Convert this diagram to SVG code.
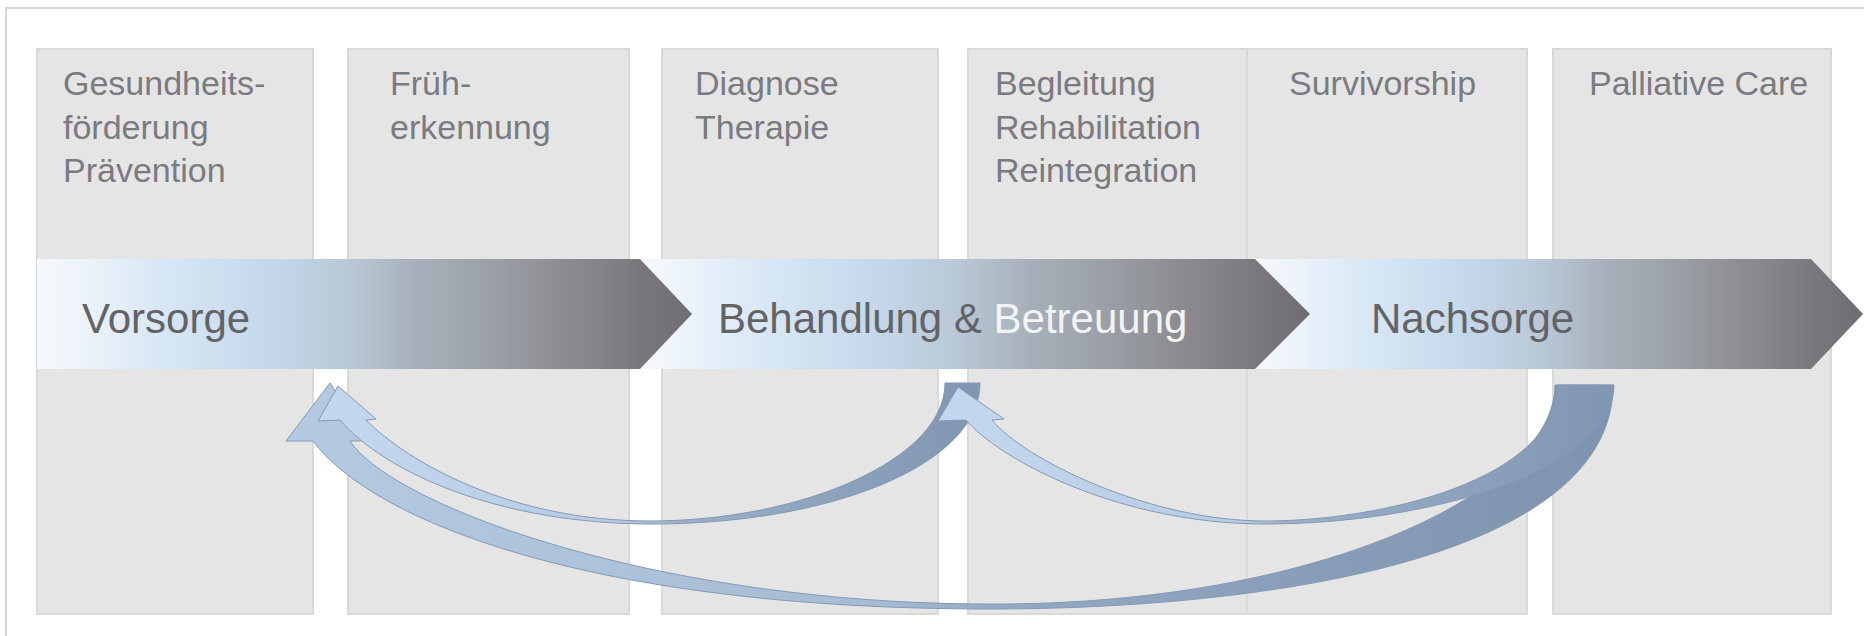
<svg xmlns="http://www.w3.org/2000/svg" width="1864" height="636" viewBox="0 0 1864 636">
<defs>
<linearGradient id="chev" x1="0" y1="0" x2="1" y2="0">
<stop offset="0" stop-color="#f6f9fc"/>
<stop offset="0.08" stop-color="#eaf2fa"/>
<stop offset="0.2" stop-color="#d6e6f4"/>
<stop offset="0.35" stop-color="#c5d8eb"/>
<stop offset="0.48" stop-color="#b8c7d5"/>
<stop offset="0.58" stop-color="#a7b0ba"/>
<stop offset="0.7" stop-color="#9a9fa6"/>
<stop offset="0.8" stop-color="#8d8d91"/>
<stop offset="0.92" stop-color="#7a787c"/>
<stop offset="1" stop-color="#6f6d71"/>
</linearGradient>
<linearGradient id="gC" gradientUnits="userSpaceOnUse" x1="286" y1="0" x2="1613" y2="0">
<stop offset="0" stop-color="#b4cae3"/>
<stop offset="0.45" stop-color="#a6bbd4"/>
<stop offset="0.53" stop-color="#94a9c3"/>
<stop offset="1" stop-color="#7d93ae"/>
</linearGradient>
<linearGradient id="gA" gradientUnits="userSpaceOnUse" x1="318" y1="0" x2="980" y2="0">
<stop offset="0" stop-color="#c3d8ee"/>
<stop offset="0.45" stop-color="#b7cce4"/>
<stop offset="0.55" stop-color="#9aafc8"/>
<stop offset="1" stop-color="#8096b1"/>
</linearGradient>
<linearGradient id="gB" gradientUnits="userSpaceOnUse" x1="938" y1="0" x2="1614" y2="0">
<stop offset="0" stop-color="#c3d8ee"/>
<stop offset="0.45" stop-color="#b7cce4"/>
<stop offset="0.52" stop-color="#9aafc8"/>
<stop offset="1" stop-color="#8096b1"/>
</linearGradient>
</defs>
<style>
.box{fill:#e6e5e6;stroke:#d9d9d9;stroke-width:2}
.lbl{font-family:"Liberation Sans",Arial,sans-serif;font-size:34px;fill:#7a7b80}
.big{font-family:"Liberation Sans",Arial,sans-serif;font-size:42px;fill:#636366}
.chev{fill:url(#chev)}
.arr{stroke:#8499b4;stroke-width:1;stroke-linejoin:round}
</style>
<rect width="1864" height="636" fill="#ffffff"/>
<g id="frame">
<path d="M6,636 V8 H1864" fill="none" stroke="#d6d6d6" stroke-width="2"/>
</g>
<g id="box-gesundheitsfoerderung">
<rect class="box" x="37" y="49" width="276" height="565"/>
<text class="lbl" x="63" y="95">Gesundheits-</text>
<text class="lbl" x="63" y="138.5">förderung</text>
<text class="lbl" x="63" y="182">Prävention</text>
</g>
<g id="box-frueherkennung">
<rect class="box" x="348" y="49" width="281" height="565"/>
<text class="lbl" x="390" y="95">Früh-</text>
<text class="lbl" x="390" y="138.5">erkennung</text>
</g>
<g id="box-diagnose">
<rect class="box" x="662" y="49" width="276" height="565"/>
<text class="lbl" x="695" y="95">Diagnose</text>
<text class="lbl" x="695" y="138.5">Therapie</text>
</g>
<g id="box-begleitung">
<rect class="box" x="968" y="49" width="279" height="565"/>
<text class="lbl" x="995" y="95">Begleitung</text>
<text class="lbl" x="995" y="138.5">Rehabilitation</text>
<text class="lbl" x="995" y="182">Reintegration</text>
</g>
<g id="box-survivorship">
<rect class="box" x="1247" y="49" width="280" height="565"/>
<text class="lbl" x="1289" y="95">Survivorship</text>
</g>
<g id="box-palliative">
<rect class="box" x="1553" y="49" width="278" height="565"/>
<text class="lbl" x="1589" y="95">Palliative Care</text>
</g>
<g id="phase-nachsorge">
<path class="chev" d="M1254,259 H1811 L1863,314 L1811,369 H1254 Z"/>
<text class="big" x="1371" y="333">Nachsorge</text>
</g>
<g id="phase-behandlung">
<path class="chev" d="M640,259 H1255 L1310,314 L1255,369 H640 Z"/>
<text class="big" x="718" y="333">Behandlung &amp; <tspan fill="#f2f3f5">Betreuung</tspan></text>
</g>
<g id="phase-vorsorge">
<path class="chev" d="M37,259 H640 L692,314 L640,369 H37 Z"/>
<text class="big" x="82" y="333">Vorsorge</text>
</g>
<g id="connectors">
<path id="arrow-nachsorge-vorsorge" class="arr" fill="url(#gC)" d="M330,383 L366,441 L350,441 C394,507 660,604 990,604 C1320,605 1555,490 1555,385 L1613,385 C1613,560 1260,609 990,609 C590,609 373,521 313,441 L286,441 Z"/>
<path id="arrow-behandlung-vorsorge" class="arr" fill="url(#gA)" d="M338,386 L376,419 L366,420 C408,462 510,521 650,521 C800,521 945,460 945,383 L980,383 C980,464 832,524 652,524 C500,524 385.5,473 340,420 L318,421 Z"/>
<path id="arrow-nachsorge-behandlung" class="arr" fill="url(#gB)" d="M958,387 L1004,419 L992,420 C1025,460 1150,521 1265,521 C1380,521 1557,480 1557,385 L1614,385 C1614,470 1430,524 1265,524 C1120,524 1000,460 966,420 L938,421 Z"/>
</g>
</svg>
